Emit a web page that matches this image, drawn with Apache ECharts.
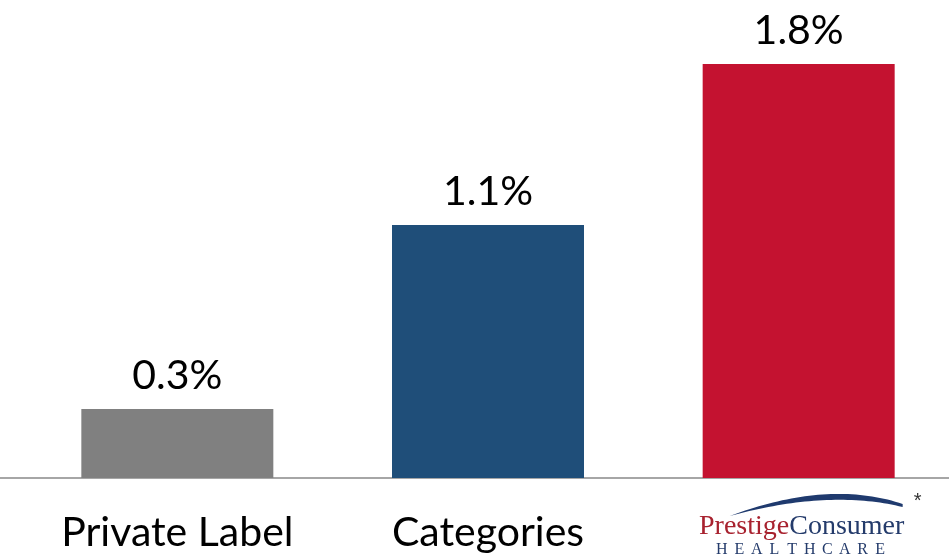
<!DOCTYPE html>
<html><head><meta charset="utf-8">
<script src="https://cdn.jsdelivr.net/npm/echarts@6/dist/echarts.min.js"></script>
<style>html,body{margin:0;padding:0;background:#fff}#c{width:949px;height:557px}</style>
</head><body><div id="c"></div>
<script>
const categories = ['Private Label', 'Categories', 'Prestige Consumer Healthcare'];
const values = [0.3, 1.1, 1.8];
const colors = ['#808080', '#1F4E79', '#C41230'];

const chart = echarts.init(document.getElementById('c'));
chart.setOption({
  animation: false,
  grid: { left: 22, width: 932, top: 18, bottom: 79, outerBoundsMode: 'none', containLabel: false },
  xAxis: {
    type: 'category', data: categories,
    axisLine: { show: false }, axisTick: { show: false },
    axisLabel: {
      fontFamily: 'Lato', fontSize: 41, color: '#000', margin: 34,
      formatter: (v, i) => (i === 2 ? '' : v)
    }
  },
  yAxis: { type: 'value', min: 0, max: 2, show: false, splitLine: { show: false } },
  series: [{
    type: 'bar', barWidth: 192,
    data: values.map((v, i) => ({ value: v, itemStyle: { color: colors[i] } })),
    label: {
      show: true, position: 'top', distance: 13,
      fontFamily: 'Lato', fontSize: 41, color: '#000',
      formatter: p => p.value.toFixed(1) + '%'
    }
  }]
});

const y0 = chart.convertToPixel({ yAxisIndex: 0 }, 0);
const cx = chart.convertToPixel({ xAxisIndex: 0 }, categories[2]);

function quad(p0, c, p2, n) {
  const pts = [];
  for (let k = 0; k <= n; k++) {
    const t = k / n, a = (1 - t) * (1 - t), b = 2 * (1 - t) * t, d = t * t;
    pts.push([cx + a * p0[0] + b * c[0] + d * p2[0], y0 + a * p0[1] + b * c[1] + d * p2[1]]);
  }
  return pts;
}
const upper = quad([-69, 38], [30, 1], [104, 26], 40);
const lower = quad([-69, 38], [30, 11], [104, 29], 40).reverse();

const hc = 'HEALTHCARE'.split('');
const graphics = [
  { type: 'line', shape: { x1: 0, y1: y0, x2: 949, y2: y0 }, style: { stroke: '#A6A6A6', lineWidth: 2 } },
  { type: 'polygon', shape: { points: upper.concat(lower) }, style: { fill: '#1F3A6E' } },
  {
    type: 'text', x: cx + 3, y: y0 + 49,
    style: {
      text: '{p|Prestige}{c|Consumer}', align: 'center', verticalAlign: 'middle',
      rich: {
        p: { fontFamily: 'Liberation Serif', fontSize: 28, fill: '#A8222F' },
        c: { fontFamily: 'Liberation Serif', fontSize: 28, fill: '#243B6B' }
      }
    }
  },
  {
    type: 'text', x: cx + 119, y: y0 + 23,
    style: { text: '*', align: 'center', verticalAlign: 'middle',
      fontFamily: 'Liberation Sans', fontSize: 20, fill: '#333' }
  }
];
hc.forEach((ch, k) => {
  graphics.push({
    type: 'text', x: cx - 77 + k * 17.6, y: y0 + 72,
    style: { text: ch, align: 'center', verticalAlign: 'middle',
      fontFamily: 'Liberation Serif', fontSize: 16, fill: '#243B6B' }
  });
});
chart.setOption({ graphic: graphics });
</script>
</body></html>
